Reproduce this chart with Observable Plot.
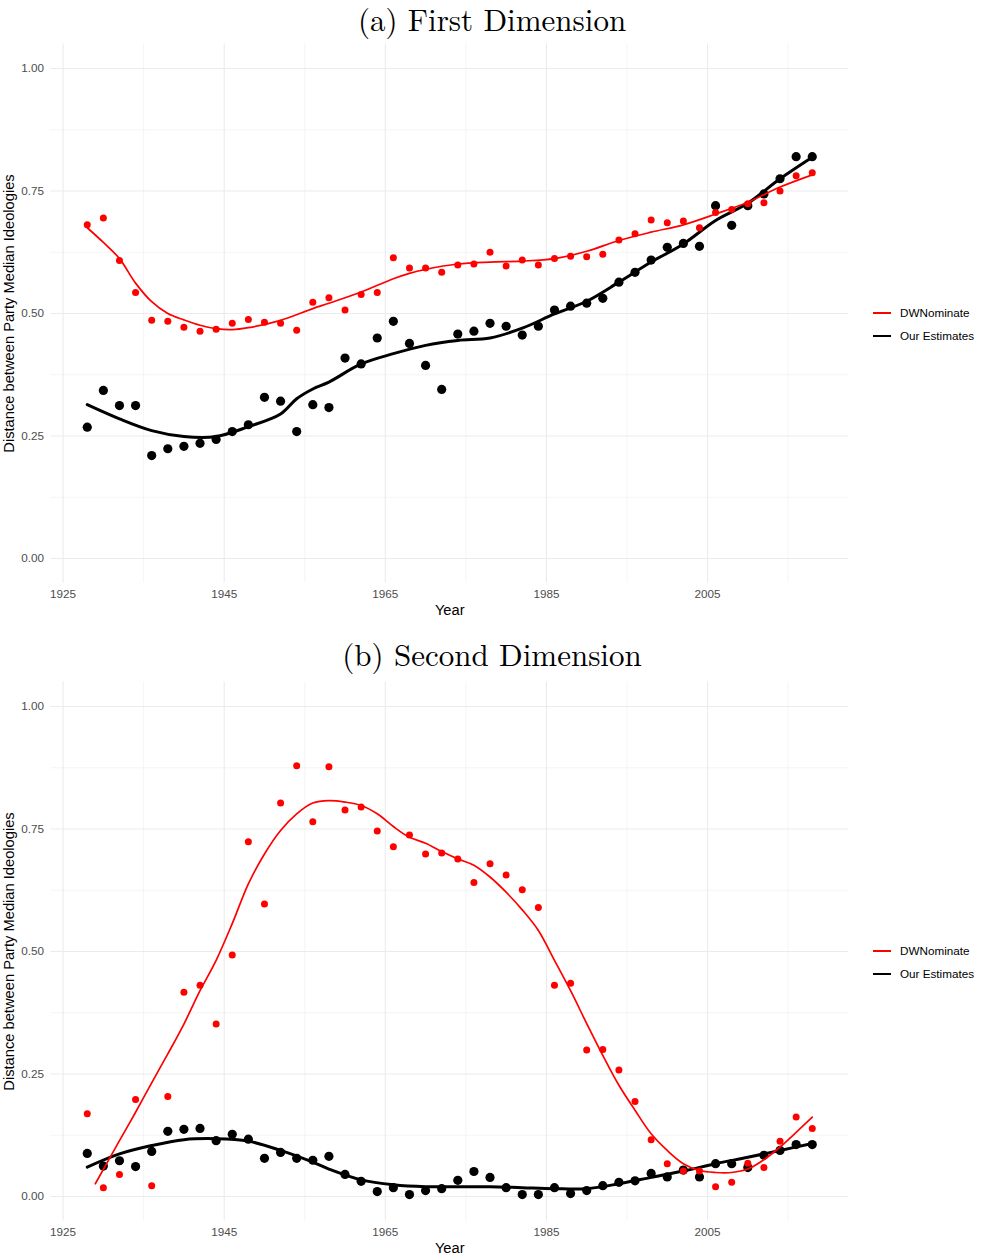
<!DOCTYPE html>
<html>
<head>
<meta charset="utf-8">
<script src="https://cdn.jsdelivr.net/npm/d3@7"></script>
<script src="https://cdn.jsdelivr.net/npm/@observablehq/plot@0.6"></script>
<style>
  body { margin: 0; background: #fff; width: 984px; height: 1255px; position: relative; overflow: hidden; }
  .title { position: absolute; left: 0; width: 984px; text-align: center;
           font-family: "Latin Modern Roman", "CMU Serif", "Liberation Serif", serif;
           font-size: 31px; line-height: 36px; height: 36px; color: #000; }
  .fig { position: absolute; left: 0; }
  .legend { position: absolute; left: 0; top: 0; font-family: "Liberation Sans", Arial, sans-serif; font-size: 11.7px; color: #000; }
  .key { position: absolute; width: 18px; height: 2.5px; }
  .lab { position: absolute; white-space: nowrap; line-height: 14px; }
</style>
</head>
<body>
<script>
// Congress years (one observation per election cycle)
const years = [1928,1930,1932,1934,1936,1938,1940,1942,1944,1946,1948,1950,1952,1954,1956,1958,1960,1962,1964,1966,1968,1970,1972,1974,1976,1978,1980,1982,1984,1986,1988,1990,1992,1994,1996,1998,2000,2002,2004,2006,2008,2010,2012,2014,2016,2018];

// (a) First dimension: distance between party medians
const dwFirst  = [0.681,0.695,0.608,0.543,0.486,0.484,0.472,0.464,0.468,0.480,0.488,0.482,0.480,0.466,0.523,0.532,0.507,0.539,0.543,0.614,0.593,0.593,0.584,0.599,0.601,0.625,0.597,0.609,0.599,0.612,0.617,0.616,0.621,0.650,0.663,0.691,0.685,0.689,0.675,0.706,0.712,0.724,0.726,0.750,0.781,0.787];
const ourFirst = [0.268,0.343,0.312,0.312,0.210,0.224,0.229,0.235,0.243,0.259,0.273,0.329,0.321,0.259,0.314,0.308,0.409,0.397,0.450,0.484,0.439,0.394,0.345,0.458,0.464,0.480,0.474,0.456,0.474,0.507,0.515,0.521,0.531,0.564,0.584,0.609,0.635,0.643,0.637,0.720,0.680,0.720,0.744,0.775,0.820,0.820];

// (b) Second dimension
const dwSecond  = [0.169,0.018,0.045,0.198,0.022,0.204,0.417,0.431,0.352,0.493,0.724,0.597,0.803,0.879,0.765,0.877,0.789,0.795,0.746,0.714,0.738,0.699,0.701,0.689,0.641,0.679,0.656,0.626,0.590,0.431,0.435,0.299,0.300,0.258,0.194,0.116,0.067,0.052,0.052,0.020,0.029,0.068,0.059,0.113,0.162,0.139];
const ourSecond = [0.088,0.062,0.073,0.061,0.092,0.133,0.137,0.139,0.114,0.127,0.117,0.078,0.090,0.078,0.074,0.082,0.045,0.031,0.010,0.018,0.004,0.012,0.016,0.033,0.051,0.039,0.018,0.004,0.004,0.018,0.006,0.012,0.022,0.029,0.032,0.047,0.040,0.054,0.040,0.067,0.067,0.059,0.084,0.094,0.106,0.106];

// Smoothed trends
const dwFirstFitYears = [1928,1930,1932,1934,1936,1938,1940,1942,1944,1946,1948,1952,1956,1958,1962,1966,1968,1970,1974,1978,1982,1986,1990,1994,1998,2002,2006,2010,2014,2018];
const dwFirstFit      = [0.675,0.645,0.612,0.562,0.524,0.500,0.487,0.476,0.469,0.467,0.471,0.486,0.510,0.521,0.544,0.571,0.582,0.590,0.601,0.605,0.607,0.612,0.627,0.649,0.666,0.681,0.703,0.727,0.758,0.783];
const ourFirstFitYears = [1928,1932,1936,1940,1944,1948,1952,1954,1956,1958,1962,1966,1970,1974,1978,1982,1986,1990,1994,1998,2002,2006,2010,2014,2018];
const ourFirstFit      = [0.314,0.285,0.261,0.249,0.249,0.269,0.295,0.326,0.346,0.360,0.397,0.418,0.435,0.445,0.450,0.470,0.499,0.525,0.564,0.605,0.642,0.690,0.725,0.775,0.819];

const dwSecondFitYears = [1929,1932,1934,1936,1938,1940,1942,1944,1946,1948,1950,1952,1954,1956,1958,1960,1962,1964,1966,1968,1970,1972,1974,1976,1978,1980,1982,1984,1986,1988,1990,1992,1994,1996,1998,2000,2002,2004,2006,2008,2010,2012,2014,2016,2018];
const dwSecondFit      = [0.026,0.114,0.172,0.232,0.291,0.352,0.420,0.482,0.557,0.638,0.699,0.747,0.781,0.803,0.808,0.805,0.798,0.781,0.755,0.733,0.721,0.704,0.689,0.676,0.652,0.621,0.585,0.543,0.482,0.420,0.353,0.288,0.227,0.176,0.128,0.094,0.067,0.053,0.049,0.049,0.056,0.075,0.101,0.131,0.162];
const ourSecondFitYears = [1928,1932,1936,1940,1944,1948,1952,1956,1958,1962,1966,1970,1974,1978,1982,1986,1990,1994,1998,2002,2006,2010,2014,2018];
const ourSecondFit      = [0.060,0.087,0.104,0.116,0.118,0.113,0.094,0.070,0.056,0.034,0.024,0.020,0.020,0.020,0.018,0.016,0.016,0.026,0.039,0.052,0.067,0.080,0.094,0.108];

// Axis ticks and grid
const xTicks = [1925,1945,1965,1985,2005];
const xMinor = [1935,1955,1975,1995,2015];
const yTicks = [0,0.25,0.5,0.75,1];
const yMinor = [0.125,0.375,0.625,0.875];

const seriesNames = ["DWNominate","Our Estimates"];
const seriesColors = ["#FF0000","#000000"];
const yTitle = "Distance between Party Median Ideologies";
const xTitle = "Year";

const rows = (xs, vs) => xs.map((x, i) => ({year: x, value: vs[i]}));
const gridColor = "#EBEBEB";

function panel(dw, ours, dwFitX, dwFit, ourFitX, ourFit, height, marginTop, marginBottom) {
  return Plot.plot({
    width: 984,
    height,
    marginLeft: 50.5,
    marginRight: 136,
    marginTop,
    marginBottom,
    style: {fontFamily: "Liberation Sans, Arial, sans-serif", fontSize: "11.7px", color: "#4D4D4D", background: "transparent", overflow: "visible"},
    x: {domain: [1923.5, 2022.5]},
    y: {domain: [-0.05, 1.05]},
    marks: [
      Plot.gridX(xMinor, {stroke: gridColor, strokeOpacity: 1, strokeWidth: 0.55}),
      Plot.gridY(yMinor, {stroke: gridColor, strokeOpacity: 1, strokeWidth: 0.55}),
      Plot.gridX(xTicks, {stroke: gridColor, strokeOpacity: 1, strokeWidth: 1.1}),
      Plot.gridY(yTicks, {stroke: gridColor, strokeOpacity: 1, strokeWidth: 1.1}),
      Plot.axisX(xTicks, {tickSize: 0, tickPadding: 7, tickFormat: d => String(d), label: null}),
      Plot.axisY(yTicks, {tickSize: 0, tickPadding: 7, tickFormat: d3.format(".2f"), label: null}),
      Plot.text([xTitle], {frameAnchor: "bottom", dy: 31.5, text: d => d, fill: "#000", fontSize: 14.7}),
      Plot.text([yTitle], {frameAnchor: "left", textAnchor: "middle", dx: -41.5, rotate: -90, text: d => d, fill: "#000", fontSize: 14.7}),
      Plot.dot(rows(years, ours), {x: "year", y: "value", r: 4.6, fill: seriesColors[1], stroke: "none"}),
      Plot.line(rows(ourFitX, ourFit), {x: "year", y: "value", stroke: seriesColors[1], strokeWidth: 3, curve: "catmull-rom"}),
      Plot.dot(rows(years, dw), {x: "year", y: "value", r: 3.5, fill: seriesColors[0], stroke: "none"}),
      Plot.line(rows(dwFitX, dwFit), {x: "year", y: "value", stroke: seriesColors[0], strokeWidth: 1.7, curve: "catmull-rom"})
    ]
  });
}

function addTitle(text, top) {
  const d = document.createElement("div");
  d.className = "title";
  d.style.top = top + "px";
  d.textContent = text;
  document.body.appendChild(d);
}

function addFigure(svg, top) {
  const d = document.createElement("div");
  d.className = "fig";
  d.style.top = top + "px";
  d.appendChild(svg);
  document.body.appendChild(d);
}

function addLegend(centerY) {
  const box = document.createElement("div");
  box.className = "legend";
  seriesNames.forEach((name, i) => {
    const y = centerY + i * 23;
    const k = document.createElement("div");
    k.className = "key";
    k.style.left = "873px";
    k.style.top = (y - 1.25) + "px";
    k.style.background = seriesColors[i];
    box.appendChild(k);
    const t = document.createElement("div");
    t.className = "lab";
    t.style.left = "900px";
    t.style.top = (y - 7) + "px";
    t.textContent = name;
    box.appendChild(t);
  });
  document.body.appendChild(box);
}

addTitle("(a) First Dimension", 0);
addFigure(panel(dwFirst, ourFirst, dwFirstFitYears, dwFirstFit, ourFirstFitYears, ourFirstFit, 590, 9.5, 41.5), 34);
addLegend(313);

addTitle("(b) Second Dimension", 635);
addFigure(panel(dwSecond, ourSecond, dwSecondFitYears, dwSecondFit, ourSecondFitYears, ourSecondFit, 583, 9.5, 34.5), 672);
addLegend(951);
</script>
</body>
</html>
